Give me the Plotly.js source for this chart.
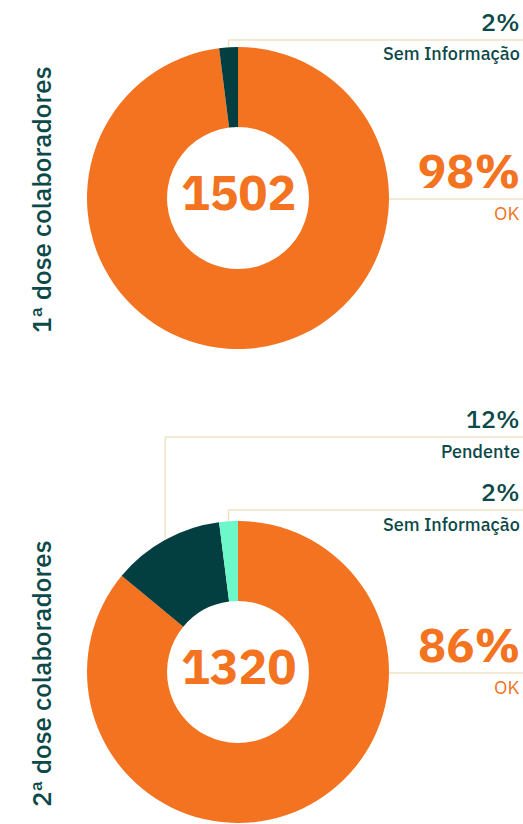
<!DOCTYPE html>
<html><head><meta charset="utf-8">
<script src="https://cdn.plot.ly/plotly-3.0.1.min.js"></script>
<style>html,body{margin:0;padding:0;background:#fff;}#chart{width:523px;height:824px;}</style>
</head><body><div id="chart"></div>
<script>
// ---- data ----
const rowTitles = ['1ª dose colaboradores', '2ª dose colaboradores'];
const totals = [1502, 1320];
const labels1 = ['OK', 'Sem Informação'];
const values1 = [98, 2];
const labels2 = ['OK', 'Pendente', 'Sem Informação'];
const values2 = [86, 12, 2];

// ---- styles ----
const ORANGE = '#F37321', TEAL = '#033F40', MINT = '#6CF8C8';
const TXT = '#0D4948', LINE = '#EFE3C7';
const colors1 = [ORANGE, TEAL];
const colors2 = [ORANGE, TEAL, MINT];
const FONT = '"IBM Plex Sans", "Open Sans", sans-serif';
const W = 523, H = 824;
const R = 151, HOLE = 0.47;
const RIGHT = 522;
const donuts = [
  {cx: 238, cy: 198, labels: labels1, values: values1, colors: colors1, lineY: {'Sem Informação': 40}},
  {cx: 238, cy: 672, labels: labels2, values: values2, colors: colors2, lineY: {'Pendente': 437, 'Sem Informação': 510}}
];
const px = x => x / W, py = y => 1 - y / H;

const data = [], shapes = [], annotations = [];
donuts.forEach((d, i) => {
  data.push({
    type: 'pie', labels: d.labels, values: d.values, sort: false,
    direction: 'clockwise', rotation: 0, hole: HOLE,
    marker: {colors: d.colors, line: {width: 0}},
    textinfo: 'none', hoverinfo: 'label+percent', showlegend: false,
    domain: {x: [px(d.cx - R), px(d.cx + R)], y: [py(d.cy + R), py(d.cy - R)]}
  });
  const tot = d.values.reduce((a, b) => a + b, 0);
  let cum = 0;
  d.values.forEach((v, k) => {
    const th = (cum + v / 2) / tot * 2 * Math.PI;
    cum += v;
    const pct = Math.round(v / tot * 100) + '%';
    const lab = d.labels[k];
    const col = k === 0 ? ORANGE : TXT;
    if (k === 0) {
      const ly = d.cy + 1;
      shapes.push({type: 'line', xref: 'paper', yref: 'paper', x0: px(d.cx + R), x1: 1, y0: py(ly), y1: py(ly), line: {color: LINE, width: 1.5}});
      annotations.push({xref: 'paper', yref: 'paper', x: px(RIGHT), y: py(ly - 29), xanchor: 'right', yanchor: 'middle', showarrow: false, text: pct, font: {family: FONT, size: 47, color: ORANGE, weight: 700}});
      annotations.push({xref: 'paper', yref: 'paper', x: px(RIGHT), y: py(ly + 14), xanchor: 'right', yanchor: 'middle', showarrow: false, text: lab, font: {family: FONT, size: 19, color: ORANGE}});
    } else {
      const ex = d.cx + R * Math.sin(th), ey = d.cy - R * Math.cos(th);
      const ly = d.lineY[lab];
      shapes.push({type: 'path', xref: 'paper', yref: 'paper',
        path: `M ${px(ex)} ${py(ey)} L ${px(ex)} ${py(ly)} L 1 ${py(ly)}`, line: {color: LINE, width: 1.5}});
      annotations.push({xref: 'paper', yref: 'paper', x: px(RIGHT), y: py(ly - 19), xanchor: 'right', yanchor: 'middle', showarrow: false, text: pct, font: {family: FONT, size: 25, color: col, weight: 500}});
      annotations.push({xref: 'paper', yref: 'paper', x: px(RIGHT), y: py(ly + 14), xanchor: 'right', yanchor: 'middle', showarrow: false, text: lab, font: {family: FONT, size: 18, color: col, weight: 500}});
    }
  });
  annotations.push({xref: 'paper', yref: 'paper', x: px(d.cx), y: py(d.cy - 6), xanchor: 'center', yanchor: 'middle', showarrow: false, text: String(totals[i]), font: {family: FONT, size: 48, color: ORANGE, weight: 700}});
  annotations.push({xref: 'paper', yref: 'paper', x: px(41), y: py(d.cy + 2), xanchor: 'center', yanchor: 'middle', textangle: -90, showarrow: false, text: rowTitles[i], font: {family: FONT, size: 26, color: TXT, weight: 500}});
});

Plotly.newPlot('chart', data, {
  width: W, height: H, margin: {l: 0, r: 0, t: 0, b: 0},
  paper_bgcolor: '#fff', plot_bgcolor: '#fff', showlegend: false,
  shapes, annotations
}, {displayModeBar: false, staticPlot: true});
</script></body></html>
